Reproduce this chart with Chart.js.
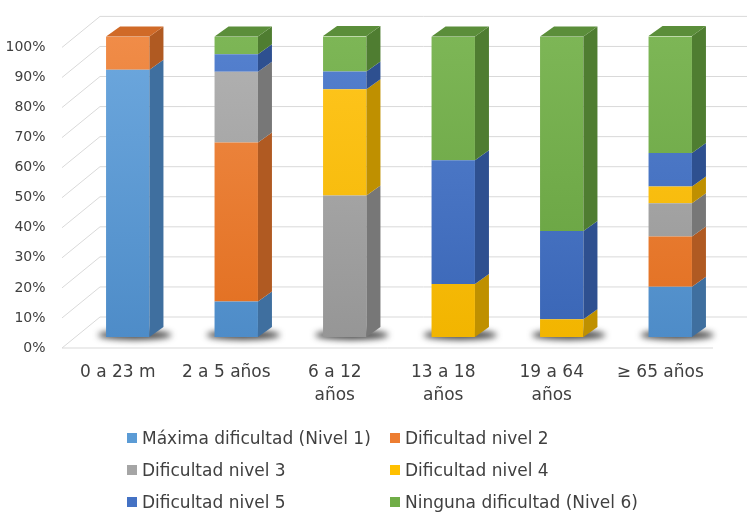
<!DOCTYPE html>
<html><head><meta charset="utf-8">
<script src="https://cdn.jsdelivr.net/npm/chart.js@4.4.1/dist/chart.umd.min.js"></script>
<style>
html,body{margin:0;padding:0;background:#fff;}
#wrap{position:relative;width:747px;height:515px;overflow:hidden;}
#c{position:absolute;left:0;top:0;}
#legend{position:absolute;left:0;top:0;width:747px;height:515px;pointer-events:none;font-family:"DejaVu Sans",sans-serif;font-size:17px;color:#404040;}
.item{position:absolute;display:flex;align-items:center;white-space:nowrap;height:24px;}
.sw{width:10px;height:10px;margin-right:5px;flex:none;}
</style></head><body>
<div id="wrap"><canvas id="c" width="747" height="515"></canvas><div id="legend"></div></div>
<script>
const categories = [["0 a 23 m"], ["2 a 5 años"], ["6 a 12", "años"], ["13 a 18", "años"], ["19 a 64", "años"], ["≥ 65 años"]];
const seriesNames = ["Máxima dificultad (Nivel 1)", "Dificultad nivel 2", "Dificultad nivel 3", "Dificultad nivel 4", "Dificultad nivel 5", "Ninguna dificultad (Nivel 6)"];
const nivel1 = [88.9, 11.8, 0, 0, 0, 16.7];
const nivel2 = [11.1, 52.9, 0, 0, 0, 16.7];
const nivel3 = [0, 23.5, 47.1, 0, 0, 11.1];
const nivel4 = [0, 0, 35.3, 17.6, 5.9, 5.6];
const nivel5 = [0, 5.9, 5.9, 41.2, 29.4, 11.1];
const nivel6 = [0, 5.9, 11.8, 41.2, 64.7, 38.9];
const yTickValues = [0, 10, 20, 30, 40, 50, 60, 70, 80, 90, 100];

const frontColors = ["#5B9BD5", "#ED7D31", "#A5A5A5", "#FFC000", "#4472C4", "#70AD47"];
const frontLight  = ["#6DA8DE", "#F08C48", "#B2B2B2", "#FFC61F", "#5581CF", "#7DB656"];
const frontDark   = ["#4E8CC8", "#E26F20", "#969696", "#F2B500", "#3A66B6", "#65A03E"];
const sideColors  = ["#3F6F9F", "#B05A22", "#777777", "#BF9000", "#2E5090", "#4F7D31"];
const topColors   = ["#4A84BC", "#D06A28", "#8E8E8E", "#DDA600", "#3862AC", "#5B8E3A"];
const seriesValues = [nivel1, nivel2, nivel3, nivel4, nivel5, nivel6];

const DX = 14, DY = 10;

const threeD = {
  id: 'threeD',
  beforeDatasetsDraw(chart) {
    const ctx = chart.ctx, ca = chart.chartArea, ys = chart.scales.y;
    const fl = ca.left - 11.5, bl = ca.left + 26.5, fr = ca.right - 11.5;
    ctx.save();
    ctx.strokeStyle = '#d9d9d9';
    ctx.lineWidth = 1;
    ys.ticks.forEach(t => {
      const y = ys.getPixelForValue(t.value);
      ctx.beginPath();
      ctx.moveTo(fl, y + 11);
      ctx.lineTo(bl, y - 20);
      ctx.lineTo(chart.width, y - 20);
      ctx.stroke();
    });
    const y0 = ys.getPixelForValue(0) + 11;
    ctx.beginPath(); ctx.moveTo(fl, y0); ctx.lineTo(fr, y0); ctx.stroke();
    ctx.restore();

    const meta = chart.getDatasetMeta(0);
    const base = ys.getPixelForValue(0);
    ctx.save();
    ctx.filter = 'blur(3px)';
    ctx.fillStyle = 'rgba(30,30,30,0.8)';
    meta.data.forEach(bar => {
      const p = bar.getProps(['x', 'width'], true);
      ctx.beginPath();
      ctx.ellipse(p.x + DX / 2, base - 2, p.width / 2 + DX / 2 + 8, 5, 0, 0, Math.PI * 2);
      ctx.fill();
    });
    ctx.restore();
  },
  afterDatasetsDraw(chart) {
    const ctx = chart.ctx;
    ctx.save();
    const tops = [];
    chart.data.datasets.forEach((ds, i) => {
      const meta = chart.getDatasetMeta(i);
      meta.data.forEach((bar, j) => {
        const p = bar.getProps(['x', 'y', 'base', 'width'], true);
        if (Math.abs(p.base - p.y) < 0.5) return;
        const r = p.x + p.width / 2;
        ctx.fillStyle = sideColors[i];
        ctx.beginPath();
        ctx.moveTo(r, p.y);
        ctx.lineTo(r + DX, p.y - DY);
        ctx.lineTo(r + DX, p.base - DY);
        ctx.lineTo(r, p.base);
        ctx.closePath();
        ctx.fill();
        if (!tops[j] || p.y < tops[j].y) tops[j] = {x: p.x, y: p.y, w: p.width, i};
      });
    });
    tops.forEach(t => {
      if (!t) return;
      const l = t.x - t.w / 2, r = t.x + t.w / 2;
      ctx.fillStyle = topColors[t.i];
      ctx.beginPath();
      ctx.moveTo(l, t.y);
      ctx.lineTo(l + DX, t.y - DY);
      ctx.lineTo(r + DX, t.y - DY);
      ctx.lineTo(r, t.y);
      ctx.closePath();
      ctx.fill();
    });
    ctx.restore();
  }
};

function frontFill(i) {
  return (context) => {
    const ca = context.chart.chartArea;
    if (!ca) return frontColors[i];
    const g = context.chart.ctx.createLinearGradient(0, ca.top, 0, ca.bottom);
    g.addColorStop(0, frontLight[i]);
    g.addColorStop(1, frontDark[i]);
    return g;
  };
}

const datasets = seriesNames.map((name, i) => ({
  label: name,
  data: seriesValues[i],
  backgroundColor: frontFill(i),
  borderWidth: 0,
  categoryPercentage: 1.0,
  barPercentage: 0.4
}));

const chart = new Chart(document.getElementById('c'), {
  type: 'bar',
  data: { labels: categories, datasets },
  options: {
    responsive: false,
    animation: false,
    events: [],
    layout: { padding: { left: 0, right: 22.5, top: 32, bottom: 0 } },
    plugins: { legend: { display: false }, tooltip: { enabled: false }, title: { display: false } },
    scales: {
      x: {
        stacked: true,
        grid: { display: false, drawTicks: false },
        border: { display: false },
        ticks: {
          color: '#404040',
          font: { family: 'DejaVu Sans', size: 17, lineHeight: 1.3 },
          padding: 25,
          labelOffset: -10,
          maxRotation: 0,
          autoSkip: false
        },
        afterFit(scale) { scale.height = 178; }
      },
      y: {
        stacked: true,
        min: 0, max: 100,
        afterBuildTicks(scale) { scale.ticks = yTickValues.map(v => ({ value: v })); },
        grid: { display: false, drawTicks: false },
        border: { display: false },
        ticks: {
          color: '#404040',
          font: { family: 'DejaVu Sans', size: 14 },
          padding: 28,
          labelOffset: 11,
          callback: v => v + '%'
        },
        afterFit(scale) { scale.width = 73.5; }
      }
    }
  },
  plugins: [threeD]
});

// HTML legend built from the chart's datasets
const legendEl = document.getElementById('legend');
const colX = [127, 390];
const rowY = [438, 470, 502];
chart.data.datasets.forEach((ds, i) => {
  const item = document.createElement('div');
  item.className = 'item';
  item.style.left = colX[i % 2] + 'px';
  item.style.top = (rowY[Math.floor(i / 2)] - 12) + 'px';
  const sw = document.createElement('span');
  sw.className = 'sw';
  sw.style.background = frontColors[i];
  const tx = document.createElement('span');
  tx.textContent = ds.label;
  item.appendChild(sw); item.appendChild(tx);
  legendEl.appendChild(item);
});
</script>
</body></html>
